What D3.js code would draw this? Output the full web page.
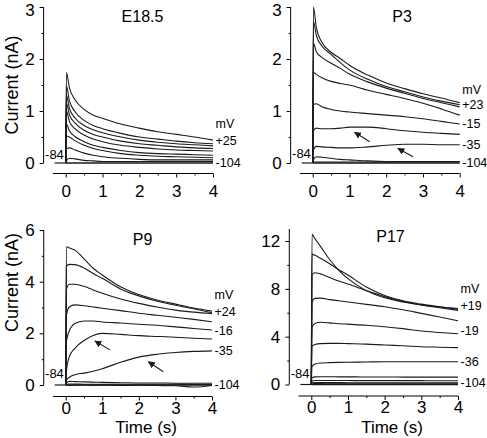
<!DOCTYPE html>
<html>
<head>
<meta charset="utf-8">
<script src="https://cdn.jsdelivr.net/npm/d3@7"></script>
<style>
  html, body { margin: 0; padding: 0; background: #fff; }
  svg { display: block; font-family: "Liberation Sans", Arial, sans-serif; }
</style>
</head>
<body>
<svg id="chart" width="487" height="438"></svg>
<script>
// ---------------- DATA ----------------
const timeGrid = [0, 0.02, 0.1, 0.25, 0.5, 0.75, 1, 1.5, 2, 2.5, 3, 3.5, 4];

const e185Traces = [
  [0, 1.74, 1.45, 1.22, 1.03, 0.92, 0.86, 0.75, 0.67, 0.60, 0.55, 0.50, 0.44],
  [0, 1.48, 1.20, 0.99, 0.82, 0.72, 0.66, 0.57, 0.50, 0.46, 0.42, 0.39, 0.37],
  [0, 1.30, 1.05, 0.87, 0.72, 0.64, 0.58, 0.50, 0.44, 0.40, 0.37, 0.35, 0.33],
  [0, 1.15, 0.93, 0.77, 0.63, 0.55, 0.50, 0.42, 0.37, 0.34, 0.31, 0.29, 0.28],
  [0, 1.00, 0.80, 0.66, 0.54, 0.46, 0.41, 0.34, 0.30, 0.27, 0.25, 0.24, 0.23],
  [0, 0.75, 0.62, 0.51, 0.41, 0.34, 0.30, 0.24, 0.20, 0.18, 0.17, 0.16, 0.15],
  [0, 0.52, 0.50, 0.43, 0.34, 0.28, 0.24, 0.18, 0.15, 0.13, 0.12, 0.11, 0.10],
  [0, 0.28, 0.29, 0.25, 0.19, 0.15, 0.12, 0.09, 0.07, 0.06, 0.06, 0.06, 0.06],
  [0, 0.04, 0.09, 0.08, 0.05, 0.04, 0.03, 0.03, 0.03, 0.03, 0.03, 0.03, 0.03],
  [0, 0, 0, 0, 0, 0, 0, 0, 0, 0, 0, 0, 0]
];

const p3Traces = [
  [0, 3.00, 2.60, 2.32, 2.13, 2.01, 1.88, 1.69, 1.54, 1.43, 1.33, 1.25, 1.16],
  [0, 2.72, 2.45, 2.25, 2.09, 1.93, 1.79, 1.61, 1.47, 1.37, 1.27, 1.19, 1.12],
  [0, 2.30, 2.14, 2.03, 1.92, 1.82, 1.71, 1.56, 1.44, 1.34, 1.24, 1.16, 1.08],
  [0, 1.74, 1.70, 1.64, 1.57, 1.53, 1.50, 1.40, 1.32, 1.24, 1.15, 1.04, 0.92],
  [0, 1.12, 1.14, 1.08, 1.03, 1.00, 0.98, 0.95, 0.92, 0.89, 0.85, 0.80, 0.75],
  [0, 0.62, 0.67, 0.66, 0.66, 0.67, 0.69, 0.69, 0.66, 0.62, 0.59, 0.57, 0.55],
  [0, 0.25, 0.32, 0.31, 0.30, 0.29, 0.29, 0.31, 0.34, 0.36, 0.36, 0.35, 0.35],
  [0, 0.06, 0.12, 0.11, 0.09, 0.07, 0.06, 0.04, 0.03, 0.03, 0.03, 0.03, 0.03],
  [0, 0.02, 0.02, 0.02, 0.02, 0.02, 0.02, 0.02, 0.02, 0.02, 0.02, 0.02, 0.02],
  [0, 0, 0, 0, 0, 0, 0, 0, 0, 0, 0, 0, 0]
];

const p9Traces = [
  [0, 5.35, 5.30, 5.22, 4.88, 4.52, 4.26, 3.80, 3.50, 3.29, 3.13, 2.98, 2.86],
  [0, 4.60, 4.67, 4.66, 4.53, 4.32, 4.13, 3.72, 3.45, 3.24, 3.09, 2.95, 2.80],
  [0, 3.70, 3.90, 3.90, 3.82, 3.68, 3.55, 3.33, 3.16, 3.02, 2.90, 2.82, 2.76],
  [0, 2.70, 3.02, 3.10, 3.07, 3.02, 2.97, 2.88, 2.78, 2.70, 2.62, 2.54, 2.45],
  [0, 1.70, 2.10, 2.38, 2.48, 2.48, 2.44, 2.40, 2.35, 2.31, 2.25, 2.19, 2.13],
  [0, 0.55, 1.10, 1.42, 1.72, 1.92, 2.00, 1.96, 1.91, 1.88, 1.85, 1.81, 1.78],
  [0, 0.18, 0.30, 0.40, 0.46, 0.53, 0.63, 0.88, 1.08, 1.19, 1.26, 1.30, 1.32],
  [0, 0.08, 0.14, 0.13, 0.12, 0.11, 0.10, 0.09, 0.08, 0.08, 0.07, 0.07, 0.07],
  [0, 0.03, 0.04, 0.04, 0.03, 0.03, 0.03, 0.03, 0.03, 0.03, 0.03, 0.02, 0.02],
  [0, 0, -0.02, -0.01, 0, -0.01, 0, -0.02, -0.01, -0.02, -0.03, -0.08, -0.02],
  [0, 0, 0, 0, 0, 0, 0, 0, 0, 0, 0, 0, 0]
];

const p17Traces = [
  [0, 12.55, 12.20, 11.55, 10.45, 9.55, 8.85, 7.85, 7.25, 6.90, 6.65, 6.48, 6.35],
  [0, 10.90, 10.80, 10.55, 10.10, 9.60, 9.15, 8.15, 7.45, 7.00, 6.72, 6.50, 6.30],
  [0, 9.20, 9.35, 9.25, 8.95, 8.65, 8.40, 7.85, 7.35, 6.95, 6.65, 6.42, 6.20],
  [0, 6.90, 7.20, 7.22, 7.10, 7.00, 6.90, 6.70, 6.50, 6.25, 5.95, 5.65, 5.33],
  [0, 4.80, 5.10, 5.20, 5.15, 5.08, 5.05, 4.95, 4.83, 4.67, 4.47, 4.35, 4.25],
  [0, 3.20, 3.35, 3.42, 3.44, 3.44, 3.42, 3.38, 3.30, 3.24, 3.16, 3.12, 3.08],
  [0, 1.50, 1.72, 1.80, 1.83, 1.85, 1.86, 1.88, 1.90, 1.90, 1.90, 1.90, 1.90],
  [0, 0.55, 0.64, 0.65, 0.65, 0.64, 0.64, 0.63, 0.63, 0.62, 0.62, 0.62, 0.62],
  [0, 0.30, 0.34, 0.34, 0.33, 0.33, 0.33, 0.32, 0.32, 0.32, 0.32, 0.31, 0.31],
  [0, 0.15, 0.16, 0.16, 0.16, 0.16, 0.15, 0.15, 0.15, 0.15, 0.15, 0.15, 0.15],
  [0, 0.06, 0.07, 0.07, 0.06, 0.06, 0.06, 0.06, 0.06, 0.06, 0.06, 0.06, 0.06],
  [0, 0, 0, 0, 0, 0, 0, 0, 0, 0, 0, 0, 0]
];

const panelTitles = ["E18.5", "P3", "P9", "P17"];
const xTickValues = [0, 1, 2, 3, 4];
const xMinorTicks = [0.5, 1.5, 2.5, 3.5];
const yTicksE185 = [0, 1, 2, 3];
const yMinorE185 = [0.5, 1.5, 2.5];
const yTicksP3 = [0, 1, 2, 3];
const yMinorP3 = [0.5, 1.5, 2.5];
const yTicksP9 = [0, 2, 4, 6];
const yMinorP9 = [1, 3, 5];
const yTicksP17 = [0, 4, 8, 12];
const yMinorP17 = [2, 6, 10];

// voltage labels (text, current level)
const voltLabelsE185 = [["mV", 0.75], ["+25", 0.42], ["-104", 0]];
const voltLabelsP3 = [["mV", 1.40], ["+23", 1.12], ["-15", 0.75], ["-35", 0.35], ["-104", 0]];
const voltLabelsP9 = [["mV", 3.48], ["+24", 2.84], ["-16", 2.10], ["-35", 1.32], ["-104", 0]];
const voltLabelsP17 = [["mV", 7.98], ["+19", 6.59], ["-19", 4.47], ["-36", 1.91], ["-104", 0.1]];
const holdLabel = "-84";
const holdLabelLevel = [0.17, 0.19, 0.43, 0.96];

// arrows: [tailTime, tailCurrent, headTime, headCurrent]
const arrowsP3 = [[1.55, 0.41, 1.14, 0.59], [2.73, 0.12, 2.32, 0.28]];
const arrowsP9 = [[1.21, 1.36, 0.80, 1.70], [2.67, 0.51, 2.26, 0.90]];

// ---------------- LAYOUT ----------------
const panels = [
  { title: panelTitles[0], traces: e185Traces, yTicks: yTicksE185, yMinor: yMinorE185, yTop: 3,
    x0: 65.7, x4: 213, yZero: 163, yMaxPx: 7, yMax: 3, xAxisY: 173.5, xPad: 7, labels: voltLabelsE185, arrows: [],
    titleX: 142.5, titleY: 16, yLabelY: 85, xLabel: false, holdIdx: 0 },
  { title: panelTitles[1], traces: p3Traces, yTicks: yTicksP3, yMinor: yMinorP3, yTop: 3,
    x0: 312.7, x4: 459.7, yZero: 163, yMaxPx: 7, yMax: 3, xAxisY: 173.5, xPad: 7, labels: voltLabelsP3, arrows: arrowsP3,
    titleX: 402, titleY: 16, yLabelY: null, xLabel: false, holdIdx: 1 },
  { title: panelTitles[2], traces: p9Traces, yTicks: yTicksP9, yMinor: yMinorP9, yTop: 6,
    x0: 65.7, x4: 212, yZero: 385, yMaxPx: 230, yMax: 6, xAxisY: 396.5, xPad: 1, labels: voltLabelsP9, arrows: arrowsP9,
    titleX: 142.5, titleY: 239, yLabelY: 282.5, xLabel: true, holdIdx: 2 },
  { title: panelTitles[3], traces: p17Traces, yTicks: yTicksP17, yMinor: yMinorP17, yTop: 13,
    x0: 311.3, x4: 458, yZero: 384.5, yMaxPx: 241, yMax: 12, xAxisY: 396, xPad: 1, labels: voltLabelsP17, arrows: [],
    titleX: 390.5, titleY: 236, yLabelY: null, xLabel: true, holdIdx: 3 }
];

const svg = d3.select("#chart");
const ink = "#1a1a1a";

svg.append("defs").append("marker")
  .attr("id", "arrowhead")
  .attr("viewBox", "0 0 10 10")
  .attr("refX", 9).attr("refY", 5)
  .attr("markerWidth", 7).attr("markerHeight", 7)
  .attr("markerUnits", "userSpaceOnUse")
  .attr("orient", "auto")
  .append("path").attr("d", "M0,0 L10,5 L0,10 z").attr("fill", ink);

panels.forEach(p => {
  const x = d3.scaleLinear().domain([0, 4]).range([p.x0, p.x4]);
  const y = d3.scaleLinear().domain([0, p.yMax]).range([p.yZero, p.yMaxPx]);
  const g = svg.append("g");
  const yAxisX = x(-0.6);

  // y axis line
  g.append("line")
    .attr("x1", yAxisX).attr("x2", yAxisX)
    .attr("y1", y(0)).attr("y2", y(p.yTop))
    .attr("stroke", "#000").attr("stroke-width", 1);
  const yAxis = g.append("g").attr("transform", `translate(${yAxisX},0)`)
    .call(d3.axisLeft(y).tickValues(p.yTicks).tickSize(4).tickSizeOuter(0).tickPadding(5).tickFormat(d3.format("d")));
  yAxis.select(".domain").remove();
  yAxis.selectAll("text").attr("font-size", 17).attr("fill", "#000")
    .attr("font-family", "Liberation Sans, Arial, sans-serif")
    .attr("dy", d => (y(d) < 12 ? "0.5em" : "0.32em"));
  const yMin = g.append("g").attr("transform", `translate(${yAxisX},0)`)
    .call(d3.axisLeft(y).tickValues(p.yMinor).tickSize(2).tickSizeOuter(0).tickFormat(""));
  yMin.select(".domain").remove();

  // x axis
  g.append("line")
    .attr("x1", x(-0.35)).attr("x2", x(4))
    .attr("y1", p.xAxisY).attr("y2", p.xAxisY)
    .attr("stroke", "#000").attr("stroke-width", 1);
  const xAxis = g.append("g").attr("transform", `translate(0,${p.xAxisY})`)
    .call(d3.axisBottom(x).tickValues(xTickValues).tickSize(4).tickSizeOuter(0).tickPadding(p.xPad).tickFormat(d3.format("d")));
  xAxis.select(".domain").remove();
  xAxis.selectAll("text").attr("font-size", 17).attr("fill", "#000")
    .attr("font-family", "Liberation Sans, Arial, sans-serif");
  const xMin = g.append("g").attr("transform", `translate(0,${p.xAxisY})`)
    .call(d3.axisBottom(x).tickValues(xMinorTicks).tickSize(2).tickSizeOuter(0).tickFormat(""));
  xMin.select(".domain").remove();

  // holding segment before step
  g.append("line")
    .attr("x1", x(-0.3)).attr("x2", x(0))
    .attr("y1", y(0)).attr("y2", y(0))
    .attr("stroke", ink).attr("stroke-width", 1.2);

  // traces
  const line = d3.line()
    .x((d, i) => x(timeGrid[i]))
    .y(d => y(d))
    .curve(d3.curveMonotoneX);
  g.selectAll("path.trace").data(p.traces).enter().append("path")
    .attr("class", "trace")
    .attr("d", line)
    .attr("fill", "none")
    .attr("stroke", ink)
    .attr("stroke-width", (d, i) => i === p.traces.length - 1 ? 1.6 : 1.1);

  // title
  g.append("text").attr("x", p.titleX).attr("y", p.titleY)
    .attr("text-anchor", "middle").attr("dominant-baseline", "central")
    .attr("font-size", 16).attr("fill", "#000").text(p.title);

  // voltage labels
  g.selectAll("text.vl").data(p.labels).enter().append("text")
    .attr("class", "vl")
    .attr("x", x(4.07)).attr("y", d => y(d[1]))
    .attr("dominant-baseline", "central")
    .attr("font-size", 12.5).attr("fill", "#000")
    .text(d => d[0]);

  // holding label
  g.append("text").attr("x", x(-0.05)).attr("y", y(holdLabelLevel[p.holdIdx]))
    .attr("text-anchor", "end").attr("dominant-baseline", "central")
    .attr("font-size", 13).attr("fill", "#000").text(holdLabel);

  // arrows
  g.selectAll("line.arrow").data(p.arrows).enter().append("line")
    .attr("class", "arrow")
    .attr("x1", d => x(d[0])).attr("y1", d => y(d[1]))
    .attr("x2", d => x(d[2])).attr("y2", d => y(d[3]))
    .attr("stroke", ink).attr("stroke-width", 1.1)
    .attr("marker-end", "url(#arrowhead)");

  // axis titles
  if (p.yLabelY !== null) {
    g.append("text")
      .attr("transform", `translate(12,${p.yLabelY}) rotate(-90)`)
      .attr("text-anchor", "middle").attr("dominant-baseline", "central")
      .attr("font-size", 18).attr("fill", "#000").text("Current (nA)");
  }
  if (p.xLabel) {
    g.append("text").attr("x", x(2.2)).attr("y", 427)
      .attr("text-anchor", "middle").attr("dominant-baseline", "central")
      .attr("font-size", 17).attr("fill", "#000").text("Time (s)");
  }
});
</script>
</body>
</html>
